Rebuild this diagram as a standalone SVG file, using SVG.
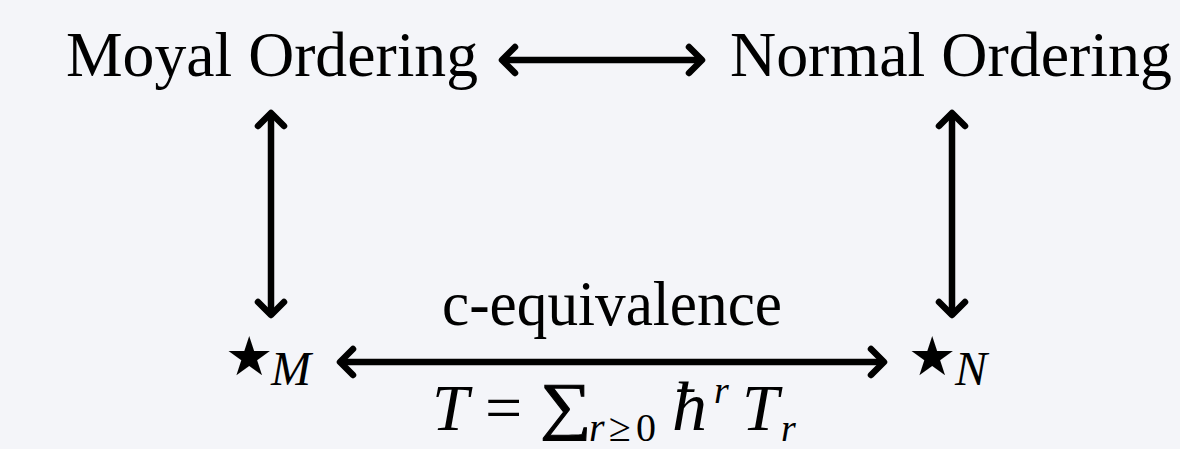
<svg xmlns="http://www.w3.org/2000/svg" width="1180" height="449" viewBox="0 0 1180 449">
<style>
.lbl{font-family:"Liberation Serif","Times New Roman",serif;fill:#000;}
.big{font-size:64px;}
.it{font-style:italic;}
.star{font-family:"DejaVu Sans",sans-serif;fill:#000;font-size:54px;}
.edge{stroke:#000;stroke-width:6.5;fill:none;stroke-linecap:butt;}
</style>
<defs>
<marker id="ah" markerUnits="userSpaceOnUse" viewBox="-20 -20 30 40" refX="0" refY="0" markerWidth="30" markerHeight="40" orient="auto-start-reverse" overflow="visible">
<path d="M -13 -13 L 0 0 L -13 13" fill="none" stroke="#000" stroke-width="6.5" stroke-linecap="round" stroke-linejoin="round"/>
</marker>
</defs>
<rect width="1180" height="449" fill="#f4f5f9"/>
<g id="connectors">
<line class="edge" x1="502" y1="60" x2="702" y2="60" marker-start="url(#ah)" marker-end="url(#ah)"/>
<line class="edge" x1="271" y1="113" x2="271" y2="315" marker-start="url(#ah)" marker-end="url(#ah)"/>
<line class="edge" x1="952" y1="113" x2="952" y2="315" marker-start="url(#ah)" marker-end="url(#ah)"/>
<line class="edge" x1="340" y1="362" x2="884" y2="362" marker-start="url(#ah)" marker-end="url(#ah)"/>
</g>
<g id="moyal">
<text class="lbl big" x="66" y="76" textLength="412" lengthAdjust="spacingAndGlyphs">Moyal Ordering</text>
</g>
<g id="normal">
<text class="lbl big" x="730" y="76" textLength="442" lengthAdjust="spacingAndGlyphs">Normal Ordering</text>
</g>
<g id="starM">
<text class="star" x="225" y="375">★</text>
<text class="lbl it" x="271" y="385" font-size="48">M</text>
</g>
<g id="starN">
<text class="star" x="908" y="375">★</text>
<text class="lbl it" x="955" y="385" font-size="48">N</text>
</g>
<g id="label-c-equivalence">
<text class="lbl big" x="442" y="325" textLength="340" lengthAdjust="spacingAndGlyphs">c-equivalence</text>
</g>
<g id="label-formula">
<text class="lbl" font-size="66" y="430"><tspan class="it" x="432">T</tspan><tspan x="485">=</tspan><tspan class="it" x="589" y="441" font-size="40">r</tspan><tspan x="609" y="441" font-size="40">≥</tspan><tspan x="636" y="441" font-size="40">0</tspan><tspan class="it" x="672" y="430" font-size="70">ħ</tspan><tspan class="it" x="714" y="403" font-size="38">r</tspan><tspan class="it" x="742" y="430">T</tspan><tspan class="it" x="781" y="441" font-size="38">r</tspan></text>
<text class="lbl" font-size="72" stroke="#000" stroke-width="1.2" transform="translate(540,427) scale(1,0.88)">∑</text>
</g>
</svg>
